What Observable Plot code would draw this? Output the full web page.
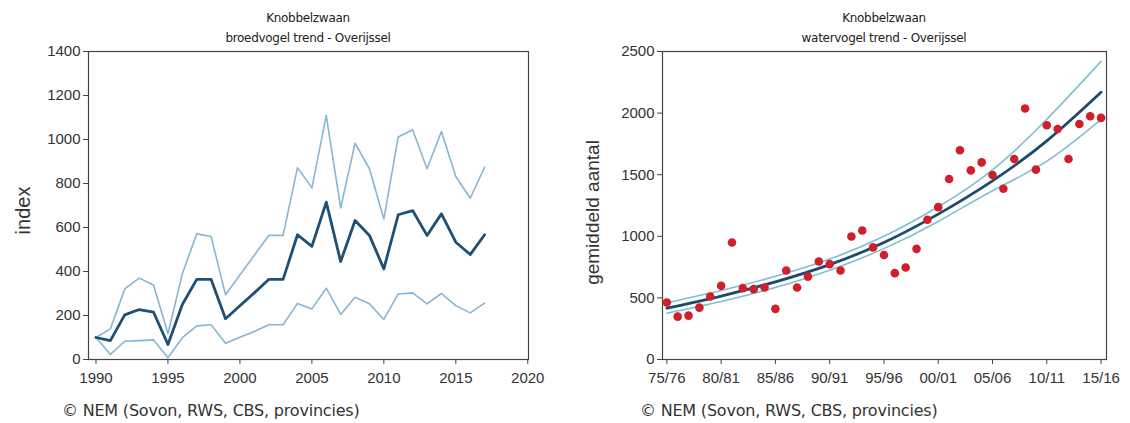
<!DOCTYPE html>
<html>
<head>
<meta charset="utf-8">
<script src="https://cdn.jsdelivr.net/npm/d3@7"></script>
<script src="https://cdn.jsdelivr.net/npm/@observablehq/plot@0.6"></script>
<style>
  html, body { margin: 0; padding: 0; background: #fff; }
  #wrap { position: relative; width: 1130px; height: 423px; overflow: hidden; background: #fff; }
  .panel { position: absolute; top: 0; width: 565px; height: 423px; }
  .title { position: absolute; top: 8px; text-align: center; font-family: "DejaVu Sans", sans-serif; font-size: 12px; letter-spacing: -0.3px; line-height: 20px; color: #222; z-index: 2; }
  .chart { position: absolute; top: 35px; left: 0; z-index: 1; }
  .caption { position: absolute; top: 401px; font-family: "DejaVu Sans", sans-serif; font-size: 16px; letter-spacing: -0.2px; color: #333; white-space: nowrap; }
</style>
</head>
<body>
<div id="wrap">
  <div class="panel" id="left" style="left:0">
    <div class="chart" id="chartL"></div>
    <div class="title" style="left:88px;width:440px">Knobbelzwaan<br>broedvogel trend - Overijssel</div>
    <div class="caption" style="left:62px">© NEM (Sovon, RWS, CBS, provincies)</div>
  </div>
  <div class="panel" id="right" style="left:565px">
    <div class="chart" id="chartR"></div>
    <div class="title" style="left:97px;width:444px">Knobbelzwaan<br>watervogel trend - Overijssel</div>
    <div class="caption" style="left:75px">© NEM (Sovon, RWS, CBS, provincies)</div>
  </div>
</div>
<script>
// ---- Left chart: broedvogel index ----
const years = [1990,1991,1992,1993,1994,1995,1996,1997,1998,1999,2000,2001,2002,2003,2004,2005,2006,2007,2008,2009,2010,2011,2012,2013,2014,2015,2016,2017];
const indexMid = [100,86,203,227,215,68,250,364,364,185,244,303,364,364,567,514,715,445,632,564,412,658,677,564,662,533,477,567];
const indexUpper = [100,139,321,370,339,117,390,571,559,294,384,474,564,564,872,780,1109,689,983,867,639,1011,1044,867,1036,832,733,874];
const indexLower = [100,23,83,86,89,8,99,153,158,74,101,127,158,158,255,230,324,205,283,253,182,298,303,253,300,245,212,256];
const yearTicks = [1990,1995,2000,2005,2010,2015,2020];
const indexTicks = [0,200,400,600,800,1000,1200,1400];

// ---- Right chart: watervogel seasonal means ----
const seasons = [1975,1976,1977,1978,1979,1980,1981,1982,1983,1984,1985,1986,1987,1988,1989,1990,1991,1992,1993,1994,1995,1996,1997,1998,1999,2000,2001,2002,2003,2004,2005,2006,2007,2008,2009,2010,2011,2012,2013,2014,2015];
const meanCount = [462,348,356,421,511,598,950,579,571,584,411,722,584,673,795,774,722,998,1047,910,848,701,747,898,1134,1237,1465,1698,1535,1600,1497,1386,1628,2037,1541,1901,1871,1628,1912,1974,1961];
const trendSeasons = [1975,1980,1985,1990,1995,2000,2005,2010,2015];
const trendMid = [416,515,630,770,950,1180,1450,1775,2170];
const trendUpper = [460,560,675,815,1000,1240,1540,1950,2420];
const trendLower = [375,470,585,725,900,1120,1370,1610,1950];
const seasonTicks = [1975,1980,1985,1990,1995,2000,2005,2010,2015];
const seasonLabels = ["75/76","80/81","85/86","90/91","95/96","00/01","05/06","10/11","15/16"];
const countTicks = [0,500,1000,1500,2000,2500];

const tickFont = "Liberation Sans, Arial, sans-serif";
const axisColor = "#444";
const tickSizePx = 15;

const rowsL = years.map((y, i) => ({year: y, mid: indexMid[i], up: indexUpper[i], lo: indexLower[i]}));

const chartL = Plot.plot({
  width: 565, height: 360,
  marginLeft: 88, marginRight: 37, marginTop: 16, marginBottom: 36,
  style: {fontFamily: tickFont, fontSize: tickSizePx + "px", color: "#333", background: "transparent", overflow: "visible"},
  x: {domain: [1989.48, 2020.05]},
  y: {domain: [0, 1400]},
  marks: [
    Plot.frame({stroke: axisColor, strokeWidth: 1.2}),
    Plot.axisX({ticks: yearTicks, tickFormat: d => String(d), tickSize: 5, tickPadding: 8, label: null, stroke: axisColor, fontSize: tickSizePx}),
    Plot.axisY({ticks: indexTicks, tickFormat: d => String(d), tickSize: 5, tickPadding: 3, label: null, stroke: axisColor, fontSize: tickSizePx}),
    Plot.text(["index"], {frameAnchor: "left", textAnchor: "middle", dx: -65, dy: 5, rotate: -90, fontSize: 20, fill: "#333", fontFamily: tickFont}),
    Plot.line(rowsL, {x: "year", y: "up", stroke: "#86b6d3", strokeWidth: 1.6}),
    Plot.line(rowsL, {x: "year", y: "lo", stroke: "#86b6d3", strokeWidth: 1.6}),
    Plot.line(rowsL, {x: "year", y: "mid", stroke: "#1d4f77", strokeWidth: 2.8})
  ]
});
document.getElementById("chartL").append(chartL);

const rowsR = seasons.map((s, i) => ({season: s, value: meanCount[i]}));
const rowsT = trendSeasons.map((s, i) => ({season: s, mid: trendMid[i], up: trendUpper[i], lo: trendLower[i]}));

const chartR = Plot.plot({
  width: 565, height: 360,
  marginLeft: 97, marginRight: 24, marginTop: 16, marginBottom: 36,
  style: {fontFamily: tickFont, fontSize: tickSizePx + "px", color: "#333", background: "transparent", overflow: "visible"},
  x: {domain: [1974.6, 2015.5]},
  y: {domain: [0, 2500]},
  marks: [
    Plot.frame({stroke: axisColor, strokeWidth: 1.2}),
    Plot.axisX({ticks: seasonTicks, tickFormat: d => seasonLabels[seasonTicks.indexOf(d)], tickSize: 5, tickPadding: 8, label: null, stroke: axisColor, fontSize: tickSizePx}),
    Plot.axisY({ticks: countTicks, tickFormat: d => String(d), tickSize: 5, tickPadding: 3, label: null, stroke: axisColor, fontSize: tickSizePx}),
    Plot.text(["gemiddeld aantal"], {frameAnchor: "left", textAnchor: "middle", dx: -70, dy: 7, rotate: -90, fontSize: 19, fill: "#333", fontFamily: tickFont}),
    Plot.line(rowsT, {x: "season", y: "up", stroke: "#7fbfd2", strokeWidth: 1.6, curve: "natural"}),
    Plot.line(rowsT, {x: "season", y: "lo", stroke: "#7fbfd2", strokeWidth: 1.6, curve: "natural"}),
    Plot.line(rowsT, {x: "season", y: "mid", stroke: "#1b4a6e", strokeWidth: 2.8, curve: "natural"}),
    Plot.dot(rowsR, {x: "season", y: "value", r: 4.3, fill: "#cf1f2b", stroke: "none"})
  ]
});
document.getElementById("chartR").append(chartR);
</script>
</body>
</html>
